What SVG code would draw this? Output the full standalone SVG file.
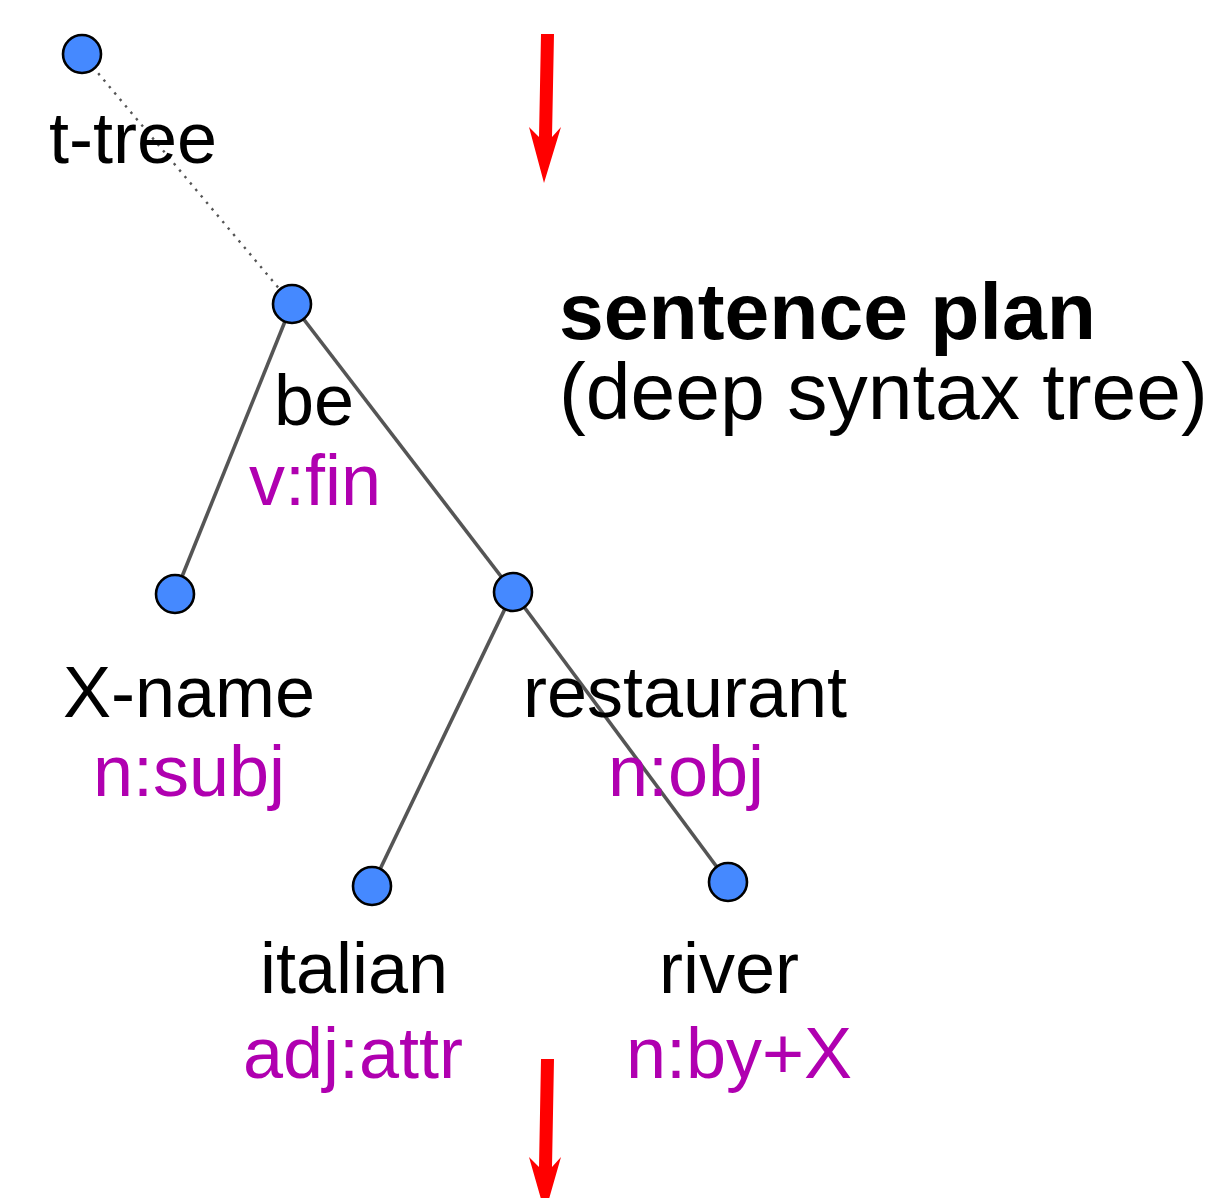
<svg xmlns="http://www.w3.org/2000/svg" width="1209" height="1198" viewBox="0 0 1209 1198">
<style>
.node{fill:#4589ff;stroke:#000;stroke-width:2.6}
.edge{stroke:#555;stroke-width:3.6;fill:none}
.dot{stroke:#555;stroke-width:2.4;stroke-dasharray:2.4 6;fill:none}
.lbl{font-family:"Liberation Sans",Arial,sans-serif;font-size:72px;fill:#000;text-anchor:middle}
.tag{font-family:"Liberation Sans",Arial,sans-serif;font-size:72px;fill:#b000b0;text-anchor:middle}
.title{font-family:"Liberation Sans",Arial,sans-serif;font-size:80.5px;fill:#000}
.arrow{fill:#ff0000}
</style>
<rect width="1209" height="1198" fill="#fff"/>
<g id="connectors">
<line class="dot" x1="82" y1="54" x2="292" y2="304"/>
<line class="edge" x1="292" y1="304" x2="175" y2="594"/>
<line class="edge" x1="292" y1="304" x2="513" y2="592"/>
<line class="edge" x1="513" y1="592" x2="372" y2="886"/>
<line class="edge" x1="513" y1="592" x2="728" y2="882"/>
</g>
<g id="arrow-top"><polygon class="arrow" points="541,34 554,34 552,137 561,127 544,183 529,127 539,137"/></g>
<g id="arrow-bottom"><polygon class="arrow" points="541,1059 554,1059 552,1167 561,1157 545,1213 529,1157 539,1167"/></g>
<g id="title">
<text class="title" x="559" y="339" font-weight="bold">sentence plan</text>
<text class="title" x="559" y="419">(deep syntax tree)</text>
</g>
<g id="node-ttree">
<circle class="node" cx="82" cy="54" r="19"/>
<text class="lbl" x="133" y="163">t-tree</text>
</g>
<g id="node-be">
<circle class="node" cx="292" cy="304" r="19"/>
<text class="lbl" x="314" y="425">be</text>
<text class="tag" x="315" y="505">v:fin</text>
</g>
<g id="node-xname">
<circle class="node" cx="175" cy="594" r="19"/>
<text class="lbl" x="189" y="717">X-name</text>
<text class="tag" x="189" y="796">n:subj</text>
</g>
<g id="node-restaurant">
<circle class="node" cx="513" cy="592" r="19"/>
<text class="lbl" x="685" y="717">restaurant</text>
<text class="tag" x="686" y="796">n:obj</text>
</g>
<g id="node-italian">
<circle class="node" cx="372" cy="886" r="19"/>
<text class="lbl" x="354" y="993">italian</text>
<text class="tag" x="353" y="1078">adj:attr</text>
</g>
<g id="node-river">
<circle class="node" cx="728" cy="882" r="19"/>
<text class="lbl" x="729" y="993">river</text>
<text class="tag" x="739" y="1078">n:by+X</text>
</g>
</svg>
